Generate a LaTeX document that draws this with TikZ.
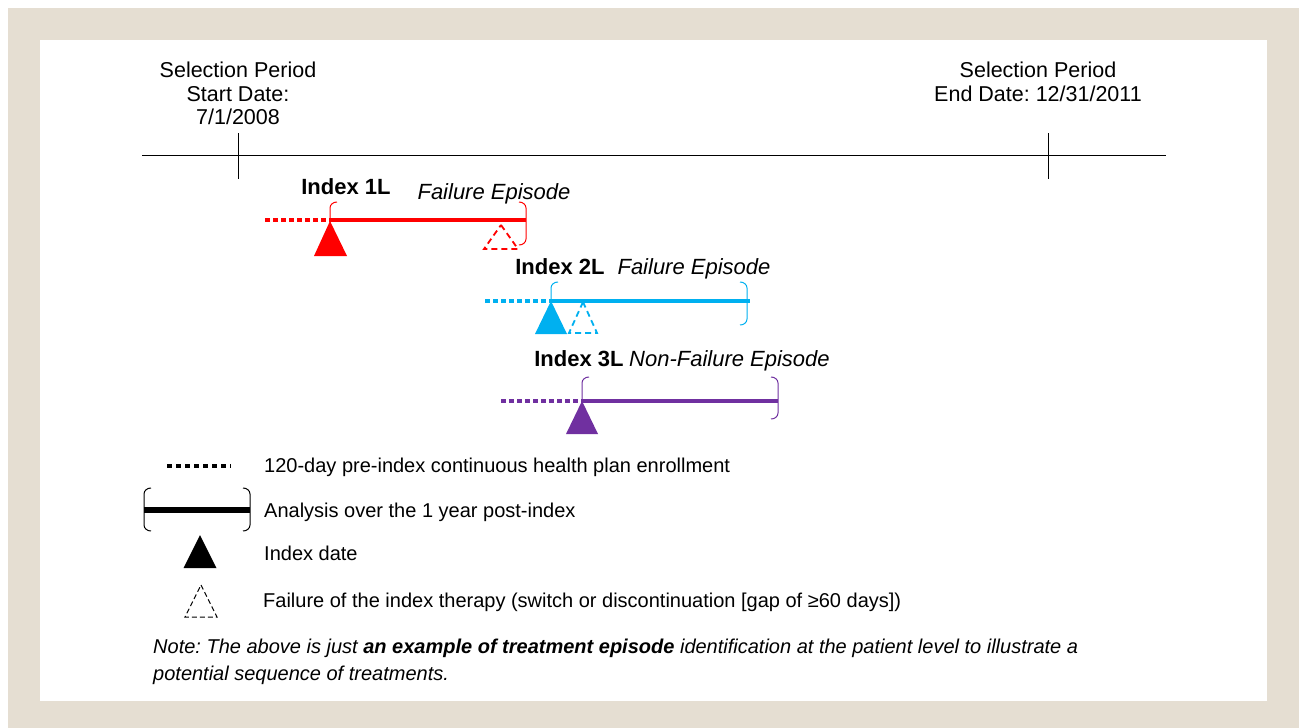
\documentclass[tikz,border=0pt]{standalone}
\usepackage{fontspec}
\setmainfont{Liberation Sans}
\frenchspacing
\definecolor{beige}{RGB}{229,222,210}
\definecolor{cred}{RGB}{255,0,0}
\definecolor{cblue}{RGB}{0,176,240}
\definecolor{cpurple}{RGB}{112,48,160}
\tikzset{
  txt/.style={inner sep=0pt, anchor=base, font=\fontsize{21.5}{24}\selectfont},
  rtxt/.style={inner sep=0pt, anchor=base, font=\fontsize{22}{24}\selectfont},
  ltxt/.style={inner sep=0pt, anchor=base west, font=\fontsize{20}{24}\selectfont},
  pre/.style={line width=4pt, dash pattern=on 5pt off 3pt},
  post/.style={line width=4.5pt},
  brk/.style={line width=1pt},
  fail/.style={dash pattern=on 6pt off 4pt, line width=1.8pt}
}
% brackets: #1 x, #2 top, #3 bottom, #4 colour
\newcommand{\lbrk}[4]{\draw[brk,#4] (#1+7,#2) to[out=180,in=90] (#1,#2+6) -- (#1,#3-6) to[out=-90,in=180] (#1+7,#3);}
\newcommand{\rbrk}[4]{\draw[brk,#4] (#1-7,#2) to[out=0,in=90] (#1,#2+6) -- (#1,#3-6) to[out=-90,in=0] (#1-7,#3);}
\begin{document}
\begin{tikzpicture}[x=1pt,y=-1pt]
\useasboundingbox (0,0) rectangle (1299,728);
\fill[white] (0,0) rectangle (1299,728);
\fill[beige] (8,8) rectangle (1299,728);
\fill[white] (40,40) rectangle (1267,701);

% timeline
\coordinate (tl) at (142,155);
\coordinate (tr) at (1166,155);
\draw[line width=1pt] (tl) -- (tr);
\coordinate (t1a) at (238,133); \coordinate (t1b) at (238,179);
\coordinate (t2a) at (1048,133); \coordinate (t2b) at (1048,179);
\draw[line width=1pt] (t1a) -- (t1b);
\draw[line width=1pt] (t2a) -- (t2b);

\node[txt] (s1a) at (238,77.5) {Selection Period};
\node[txt] (s1b) at (238,101) {Start Date:};
\node[txt] (s1c) at (238,124.5) {7/1/2008};
\node[txt] (s2a) at (1038,77.5) {Selection Period};
\node[txt] (s2b) at (1038,101) {End Date: 12/31/2011};

% Row 1 (red)
\lbrk{330}{202}{245}{cred}
\rbrk{526}{202}{245}{cred}
\draw[pre,cred] (265,220) -- (330,220);
\draw[post,cred] (330,220) -- (526,220);
\draw[fail,draw=cred,fill=white] (501,225) -- (518,249) -- (484,249) -- cycle;
\fill[cred] (330,221) -- (347,256) -- (314,256) -- cycle;
\node[rtxt,font=\fontsize{22}{24}\selectfont\bfseries] (i1) at (346,194.5) {Index 1L};
\node[rtxt,font=\fontsize{22}{24}\selectfont\itshape] (f1) at (494,199) {Failure Episode};

% Row 2 (blue)
\lbrk{551}{282}{325}{cblue}
\rbrk{747}{282}{325}{cblue}
\draw[pre,cblue] (485,301) -- (551,301);
\draw[post,cblue] (551,301) -- (750,301);
\draw[fail,draw=cblue,fill=white] (583,302) -- (597,333) -- (569,333) -- cycle;
\fill[cblue] (551,301) -- (567,334) -- (535,334) -- cycle;
\node[rtxt,font=\fontsize{22}{24}\selectfont\bfseries] (i2) at (560,274.5) {Index 2L};
\node[rtxt,font=\fontsize{22}{24}\selectfont\itshape] (f2) at (694,274.5) {Failure Episode};

% Row 3 (purple)
\lbrk{582}{377}{419}{cpurple}
\rbrk{778}{377}{419}{cpurple}
\draw[pre,cpurple] (501,401) -- (582,401);
\draw[post,cpurple] (582,401) -- (778,401);
\fill[cpurple] (582,401) -- (598,434) -- (566,434) -- cycle;
\node[rtxt,font=\fontsize{22}{24}\selectfont\bfseries] (i3) at (579,366) {Index 3L};
\node[rtxt,anchor=base west,font=\fontsize{22}{24}\selectfont\itshape] (f3) at (629,366) {Non-Failure Episode};

% Legend
\draw[pre,black,dash pattern=on 5pt off 4pt] (167,466) -- (231,466);
\node[ltxt] (l1) at (264,472) {120-day pre-index continuous health plan enrollment};
\lbrk{144}{488}{531}{black}
\rbrk{250}{488}{531}{black}
\draw[line width=6.5pt] (144,510) -- (250,510);
\node[ltxt] (l2) at (264,517) {Analysis over the 1 year post-index};
\fill[black] (200,535) -- (216.5,568) -- (183.5,568) -- cycle;
\node[ltxt] (l3) at (264,560) {Index date};
\draw[draw=black,fill=white,line width=1pt,dash pattern=on 5pt off 3pt] (201,585) -- (217,617) -- (185,617) -- cycle;
\node[ltxt] (l4) at (263,607) {Failure of the index therapy (switch or discontinuation [gap of ≥60 days])};

\node[ltxt,font=\fontsize{20}{24}\selectfont\itshape] (n1) at (153,653) {Note: The above is just \textbf{an example of treatment episode} identification at the patient level to illustrate a};
\node[ltxt,font=\fontsize{20}{24}\selectfont\itshape] (n2) at (153,680) {potential sequence of treatments.};
\end{tikzpicture}
\end{document}
